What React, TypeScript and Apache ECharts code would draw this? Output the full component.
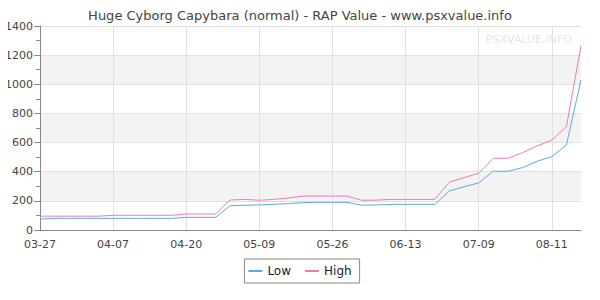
import React, { useEffect, useRef } from "react";
import * as echarts from "echarts";

const dates = [
  "03-27", "03-29", "03-31", "04-02", "04-05",
  "04-07", "04-09", "04-12", "04-14", "04-17",
  "04-20", "04-24", "04-27", "05-01", "05-05",
  "05-09", "05-12", "05-16", "05-19", "05-23",
  "05-26", "05-30", "06-02", "06-06", "06-09",
  "06-13", "06-18", "06-23", "06-28", "07-03",
  "07-09", "07-15", "07-22", "07-28", "08-04",
  "08-11", "08-14", "08-17",
];

const lowValues = [
  74, 80, 80, 80, 80,
  80, 80, 80, 80, 80,
  87, 87, 87, 166, 170,
  172, 176, 181, 188, 190,
  190, 190, 170, 172, 176,
  176, 176, 176, 268, 297,
  323, 403, 403, 428, 472,
  503, 583, 1030,
];

const highValues = [
  95, 95, 95, 95, 95,
  101, 101, 101, 101, 101,
  110, 110, 110, 206, 210,
  204, 210, 220, 233, 233,
  233, 233, 204, 205, 210,
  210, 210, 210, 329, 359,
  389, 492, 492, 531, 577,
  617, 709, 1265,
];

const titleText = "Huge Cyborg Capybara (normal) - RAP Value - www.psxvalue.info";
const watermarkText = "PSXVALUE.INFO";

export default function App() {
  const ref = useRef<HTMLDivElement>(null);

  useEffect(() => {
    if (!ref.current) return;
    const chart = echarts.init(ref.current, undefined, { renderer: "svg" });
    const font = "DejaVu Sans";
    chart.setOption({
      animation: false,
      textStyle: { fontFamily: font },
      title: {
        text: titleText,
        left: "center",
        top: 4,
        textStyle: { fontSize: 13, fontWeight: "normal", color: "#444", fontFamily: font },
      },
      graphic: [
        {
          type: "text",
          right: 28,
          top: 34,
          z: 100,
          style: { text: watermarkText, fontSize: 11, fill: "#e6e6e6", fontFamily: font },
        },
      ],
      legend: {
        data: ["Low", "High"],
        top: 259,
        left: "center",
        borderColor: "#888",
        borderWidth: 1,
        borderRadius: 0,
        padding: [6, 8, 6, 4],
        itemGap: 14,
        itemWidth: 14,
        itemHeight: 2,
        icon: "rect",
        textStyle: { fontSize: 12, color: "#222", fontFamily: font },
      },
      grid: { left: 40, right: 19, top: 26, bottom: 70 },
      xAxis: {
        type: "category",
        data: dates,
        boundaryGap: false,
        axisLine: { lineStyle: { color: "#888" } },
        axisTick: { show: false },
        axisLabel: { interval: 4, color: "#444", fontSize: 11, margin: 9, fontFamily: font },
        splitLine: { show: true, interval: 4, lineStyle: { color: "#e0e0e0" } },
      },
      yAxis: {
        type: "value",
        min: 0,
        max: 1400,
        interval: 200,
        axisLine: { show: true, lineStyle: { color: "#888" } },
        axisTick: { show: true, length: 6, lineStyle: { color: "#888" } },
        minorTick: { show: true, splitNumber: 2, length: 4, lineStyle: { color: "#888" } },
        axisLabel: {
          color: "#444",
          fontSize: 11,
          margin: 7,
          fontFamily: font,
          formatter: (v: number) => String(v),
        },
        splitLine: { show: true, lineStyle: { color: "#e0e0e0" } },
        splitArea: { show: true, areaStyle: { color: ["#ffffff", "#f3f3f3"] } },
      },
      series: [
        {
          name: "Low",
          type: "line",
          data: lowValues,
          showSymbol: false,
          symbol: "none",
          lineStyle: { width: 1, color: "#5ea6f0" },
          itemStyle: { color: "#5ea6f0" },
        },
        {
          name: "High",
          type: "line",
          data: highValues,
          showSymbol: false,
          symbol: "none",
          lineStyle: { width: 1, color: "#f07ab0" },
          itemStyle: { color: "#f07ab0" },
        },
      ],
    });
    return () => chart.dispose();
  }, []);

  return <div ref={ref} style={{ width: 600, height: 300, margin: -8 }} />;
}
